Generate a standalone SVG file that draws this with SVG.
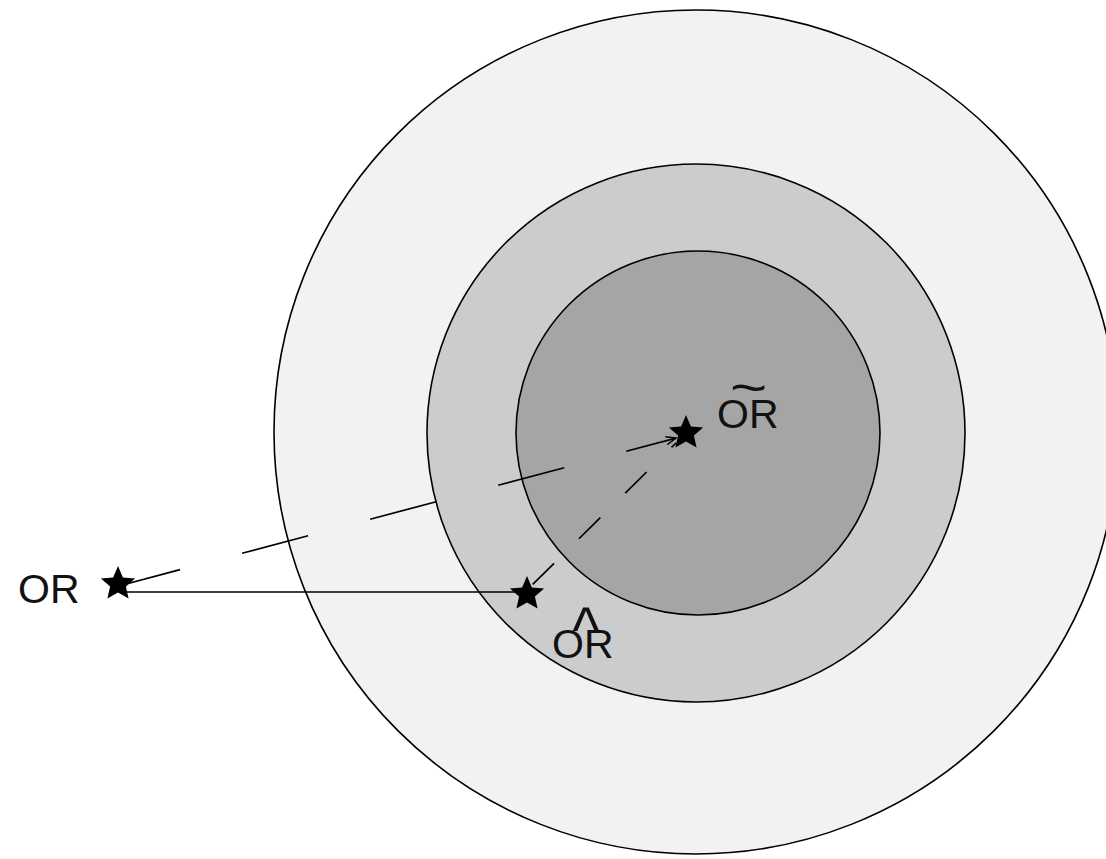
<svg xmlns="http://www.w3.org/2000/svg" width="1106" height="859" viewBox="0 0 1106 859">
<defs>
<style>
.ring{stroke:#000;stroke-width:1.6}
.lbl{font-family:"Liberation Sans",Arial,sans-serif;font-size:41px;fill:#111}
.ln{stroke:#000;stroke-width:1.7;fill:none}
.star{fill:#000}
</style>
<polygon id="starShape" points="0,-18 4.90,-6.6 17.12,-5.56 7.9,2.6 10.58,14.56 0,8.4 -10.58,14.56 -7.9,2.6 -17.12,-5.56 -4.90,-6.6"/>
<marker id="ah" markerWidth="12" markerHeight="10" refX="10" refY="5" orient="auto" markerUnits="userSpaceOnUse">
<polyline points="0,1 10,5 0,9" fill="none" stroke="#000" stroke-width="1.5"/>
</marker>
</defs>
<rect width="1106" height="859" fill="#fff"/>
<g id="outer-ring"><circle class="ring" cx="696" cy="432" r="422" fill="#f2f2f3"/></g>
<g id="middle-ring"><circle class="ring" cx="696" cy="433" r="269" fill="#cccccc"/></g>
<g id="inner-disk"><circle class="ring" cx="698" cy="433" r="182" fill="#a5a5a5"/></g>
<g id="connectors">
<line class="ln" x1="120" y1="592" x2="515" y2="592"/>
<line class="ln" x1="114" y1="587.2" x2="676" y2="438.1" stroke-dasharray="68.3 64.2" marker-end="url(#ah)"/>
<line class="ln" x1="527" y1="590" x2="676" y2="443" stroke-dasharray="0 8 30 27"/>
</g>
<g id="node-OR">
<use href="#starShape" class="star" x="118" y="584"/>
<text class="lbl" x="18" y="603">OR</text>
</g>
<g id="node-OR-hat">
<use href="#starShape" class="star" x="527" y="594"/>
<text class="lbl" x="552" y="658">OR</text>
<text class="lbl" transform="translate(572.5,652) scale(1.4,1.6)" x="0" y="0">^</text>
</g>
<g id="node-OR-tilde">
<use href="#starShape" class="star" x="686" y="433"/>
<text class="lbl" x="717" y="428">OR</text>
<text class="lbl" transform="translate(730,405) scale(1.1,0.85)" style="font-size:58px" x="0" y="0">~</text>
</g>
</svg>
